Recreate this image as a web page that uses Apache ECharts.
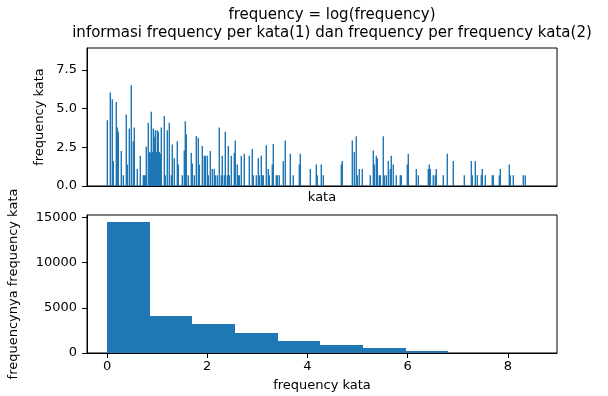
<!DOCTYPE html>
<html>
<head>
<meta charset="utf-8">
<script src="https://cdn.jsdelivr.net/npm/echarts@6/dist/echarts.min.js"></script>
<style>html,body{margin:0;padding:0;background:#fff}#c{width:608px;height:396px}</style>
</head>
<body>
<div id="c"></div>
<script>
// ---- data ----
// top: word rank (index) and log(frequency) of visible bars
const wordIdx = [0,3,5,6,9,10,11,14,16,19,20,22,24,26,27,30,33,36,37,38,39,41,42,43,44,45,46,47,48,49,50,51,52,53,54,57,58,60,62,64,65,67,70,71,75,77,78,79,81,84,85,87,89,91,92,95,97,98,100,101,103,105,107,108,110,112,114,115,117,118,120,121,122,124,127,128,130,131,132,134,137,142,145,146,149,151,152,154,155,156,159,161,162,165,166,169,170,172,176,178,183,186,192,193,203,209,210,214,216,234,235,245,247,249,250,252,255,263,266,267,269,270,272,273,276,277,279,281,283,284,286,289,293,294,300,301,309,311,321,322,323,326,328,329,336,340,346,357,364,365,368,370,374,375,378,385,386,392,393,402,403,406,416,418];
const logFreq = [4.26,6.04,5.61,1.61,5.44,3.78,3.51,2.26,0.69,4.62,1.39,3.72,6.52,2.90,3.78,1.10,1.95,0.69,0.69,0.69,2.54,4.09,2.20,2.15,4.80,2.20,3.72,3.18,3.61,2.20,3.61,3.51,2.20,2.08,3.78,4.52,0.69,3.61,4.09,0.69,2.69,1.79,2.90,1.39,0.69,2.30,4.19,3.33,0.69,2.15,1.46,0.69,3.23,3.12,1.39,2.58,1.95,1.95,1.95,0.69,2.26,1.10,1.10,0.69,0.69,3.78,0.69,1.95,0.69,3.51,0.69,2.58,0.69,1.95,2.15,2.94,1.39,0.69,0.69,1.95,2.08,1.95,2.40,0.69,0.69,1.79,0.69,1.95,0.69,0.69,2.64,1.10,0.69,1.39,2.71,0.69,0.69,0.69,1.61,2.94,2.08,0.69,1.39,2.08,1.10,1.39,0.69,1.39,0.69,1.39,1.61,2.94,2.20,3.22,0.69,1.10,1.10,0.69,2.30,1.39,1.95,1.79,0.69,0.69,3.22,0.69,0.69,1.61,1.10,1.95,1.39,0.69,0.69,0.69,1.39,2.08,1.10,0.69,1.10,1.39,1.10,0.69,0.69,1.10,0.69,2.08,1.61,0.69,1.61,0.69,1.61,0.69,0.69,1.10,0.69,0.69,0.69,0.69,1.10,1.39,0.69,0.69,0.69,0.69];
// bottom: histogram bin edges and counts
const binEdges = [0,0.851,1.702,2.553,3.404,4.255,5.106,5.957,6.808,7.659,8.51];
const binCounts = [14520,4080,3150,2200,1280,840,550,220,25,6];
// tick labels
const topYTicks = [0,2.5,5,7.5];
const botYTicks = [0,5000,10000,15000];
const botXTicks = [0,2,4,6,8];

const titleLines = ['frequency = log(frequency)', 'informasi frequency per kata(1) dan frequency per frequency kata(2)'];

// ---- chart ----
const C = '#1f77b4';
const FONT = 'DejaVu Sans';
const chart = echarts.init(document.getElementById('c'), null, {renderer: 'canvas'});

const topData = wordIdx.map((x, i) => [x, logFreq[i]]);
const histData = binCounts.map((c, i) => [binEdges[i], binEdges[i + 1], c]);

const axisLine = {show: true, onZero: false, lineStyle: {color: '#000', width: 1}};
const lbl = {color: '#000', fontFamily: FONT, fontSize: 13};

chart.setOption({
  animation: false,
  backgroundColor: '#fff',
  grid: [
    {left: 87, top: 48, width: 470, height: 138, show: true, borderColor: '#000', borderWidth: 1, backgroundColor: 'transparent'},
    {left: 87, top: 215, width: 470, height: 138, show: true, borderColor: '#000', borderWidth: 1, backgroundColor: 'transparent'}
  ],
  xAxis: [
    {type: 'value', gridIndex: 0, min: -20, max: 450, axisLine: axisLine, axisTick: {show: false}, axisLabel: {show: false}, splitLine: {show: false}},
    {type: 'value', gridIndex: 1, min: -0.4, max: 8.98, axisLine: axisLine,
      axisTick: {show: true, length: 5, lineStyle: {color: '#000'}, customValues: botXTicks},
      axisLabel: Object.assign({margin: 7, customValues: botXTicks, formatter: v => String(v)}, lbl),
      splitLine: {show: false}}
  ],
  yAxis: [
    {type: 'value', gridIndex: 0, min: 0, max: 8.925, axisLine: axisLine,
      axisTick: {show: true, length: 5, lineStyle: {color: '#000'}, customValues: topYTicks},
      axisLabel: Object.assign({margin: 10, customValues: topYTicks, formatter: v => v.toFixed(1)}, lbl),
      splitLine: {show: false}},
    {type: 'value', gridIndex: 1, min: 0, max: 15250, axisLine: axisLine,
      axisTick: {show: true, length: 5, lineStyle: {color: '#000'}, customValues: botYTicks},
      axisLabel: Object.assign({margin: 10, customValues: botYTicks, formatter: v => String(v)}, lbl),
      splitLine: {show: false}}
  ],
  series: [
    {type: 'custom', xAxisIndex: 0, yAxisIndex: 0, data: topData, encode: {x: 0, y: 1}, silent: true,
      renderItem: function (params, api) {
        const top = api.coord([api.value(0), api.value(1)]);
        const base = api.coord([api.value(0), 0]);
        const x = Math.round(top[0]) - 0.4;
        return {type: 'rect', shape: {x: x, y: top[1], width: 1.4, height: base[1] - top[1]}, style: {fill: C}};
      }},
    {type: 'custom', xAxisIndex: 1, yAxisIndex: 1, data: histData, encode: {x: [0, 1], y: 2}, silent: true,
      renderItem: function (params, api) {
        const p0 = api.coord([api.value(0), api.value(2)]);
        const p1 = api.coord([api.value(1), 0]);
        const x0 = Math.round(p0[0]), x1 = Math.round(p1[0]);
        const y0 = Math.round(p0[1]), y1 = Math.round(p1[1]);
        return {type: 'rect', shape: {x: x0, y: y0, width: x1 - x0, height: y1 - y0}, style: {fill: C}};
      }}
  ],
  graphic: [
    {type: 'text', x: 332, y: 15, style: {text: titleLines[0], fontFamily: FONT, fontSize: 15, fill: '#000', align: 'center', verticalAlign: 'middle'}},
    {type: 'text', x: 332, y: 33, style: {text: titleLines[1], fontFamily: FONT, fontSize: 15, fill: '#000', align: 'center', verticalAlign: 'middle'}},
    {type: 'text', x: 322, y: 198, style: {text: 'kata', fontFamily: FONT, fontSize: 13, fill: '#000', align: 'center', verticalAlign: 'middle'}},
    {type: 'text', x: 322, y: 386, style: {text: 'frequency kata', fontFamily: FONT, fontSize: 13, fill: '#000', align: 'center', verticalAlign: 'middle'}},
    {type: 'text', x: 40, y: 117, rotation: Math.PI / 2, style: {text: 'frequency kata', fontFamily: FONT, fontSize: 13, fill: '#000', align: 'center', verticalAlign: 'middle'}},
    {type: 'text', x: 14, y: 284, rotation: Math.PI / 2, style: {text: 'frequencynya frequency kata', fontFamily: FONT, fontSize: 13, fill: '#000', align: 'center', verticalAlign: 'middle'}}
  ]
});
</script>
</body>
</html>
